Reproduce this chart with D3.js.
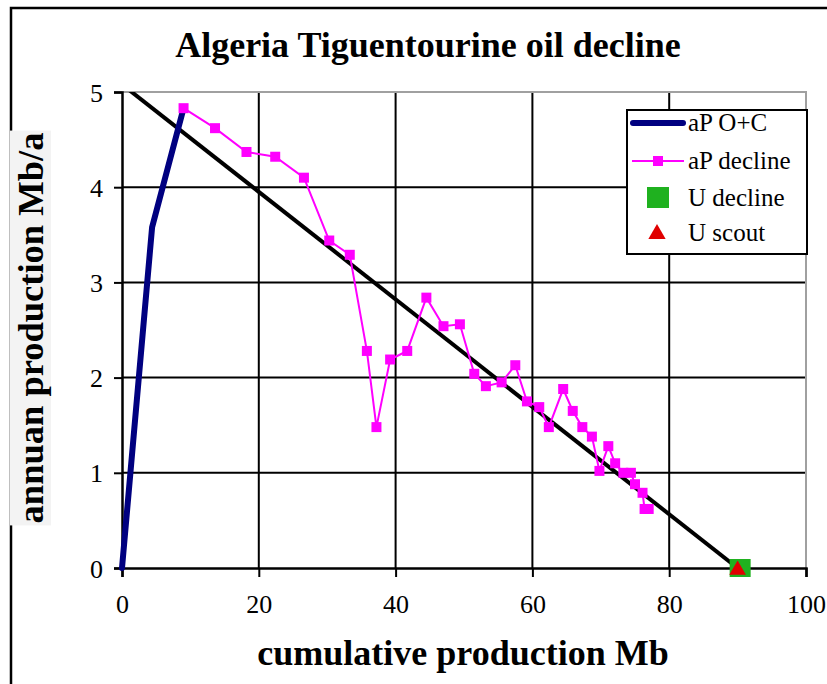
<!DOCTYPE html>
<html><head><meta charset="utf-8">
<script src="https://cdn.jsdelivr.net/npm/d3@7"></script>
<style>
html,body{margin:0;padding:0;background:#fff;overflow:hidden}
svg text{font-family:"Liberation Serif","Times New Roman",serif !important}
</style></head>
<body>
<svg id="c" width="827" height="684"></svg>
<script>
const title = "Algeria Tiguentourine oil decline";
const xTitle = "cumulative production Mb";
const yTitle = "annuan production Mb/a";
const xTicks = [0,20,40,60,80,100];
const yTicks = [0,1,2,3,4,5];

const opX = [0, 4.4, 9.0];
const opY = [0, 3.58, 4.83];

const declX = [9.0,13.6,18.2,22.4,26.6,30.3,33.3,35.8,37.2,39.2,41.7,44.5,47.0,49.4,51.5,53.2,55.5,57.5,59.2,61.0,62.4,64.5,65.9,67.3,68.7,69.8,71.1,72.1,73.3,74.4,75.0,76.1,76.4,77.0];
const declY = [4.83,4.62,4.37,4.32,4.10,3.44,3.29,2.28,1.48,2.19,2.28,2.84,2.54,2.56,2.04,1.91,1.95,2.13,1.75,1.69,1.48,1.88,1.65,1.48,1.38,1.02,1.28,1.10,1.00,1.00,0.88,0.79,0.62,0.62];

const uDecline = [90.3, 0];
const uScout = [90.0, 0];
const trendX = [0, 90];
const trendY = [5.08, 0];

const legendItems = ["aP O+C","aP decline","U decline","U scout"];

const svg = d3.select("#c");
const L=122, R=806, T=92, B=568;
const x = d3.scaleLinear().domain([0,100]).range([L,R]);
const y = d3.scaleLinear().domain([0,5]).range([B,T]);

// outer frame
svg.append("rect").attr("x",11).attr("y",8).attr("width",900).attr("height",800)
  .attr("fill","none").attr("stroke","#000").attr("stroke-width",2.5);

// title
svg.append("text").attr("x",428).attr("y",57).attr("text-anchor","middle")
  .attr("font-size",36).attr("font-weight","bold").text(title);

// clip
svg.append("clipPath").attr("id","pc").append("rect")
  .attr("x",L).attr("y",T).attr("width",R-L).attr("height",B-T);

// gridlines
const g = svg.append("g");
g.selectAll(".vg").data(xTicks.filter(d=>d>0&&d<100)).enter().append("line")
  .attr("x1",d=>x(d)).attr("x2",d=>x(d)).attr("y1",T).attr("y2",B)
  .attr("stroke","#000").attr("stroke-width",2);
g.selectAll(".hg").data(yTicks.filter(d=>d>0&&d<5)).enter().append("line")
  .attr("x1",L).attr("x2",R).attr("y1",d=>y(d)).attr("y2",d=>y(d))
  .attr("stroke","#000").attr("stroke-width",2);
g.append("line").attr("x1",L).attr("x2",R+1).attr("y1",y(5)).attr("y2",y(5)).attr("stroke","#a0a0a0").attr("stroke-width",2);
g.append("line").attr("x1",x(100)).attr("x2",x(100)).attr("y1",T).attr("y2",B).attr("stroke","#a0a0a0").attr("stroke-width",2);

// axes
const xa = svg.append("g").attr("transform",`translate(0,${B})`)
  .call(d3.axisBottom(x).tickValues(xTicks).tickSize(9).tickPadding(18).tickFormat(d3.format("d")));
const ya = svg.append("g").attr("transform",`translate(${L},0)`)
  .call(d3.axisLeft(y).tickValues(yTicks).tickSize(8).tickPadding(11).tickFormat(d3.format("d")));
[xa,ya].forEach(a=>{
  a.attr("font-family",null);
  a.select(".domain").attr("stroke","#000").attr("stroke-width",2.5);
  a.selectAll(".tick line").attr("stroke","#000").attr("stroke-width",2);
  a.selectAll("text").attr("font-size",26).attr("fill","#000");
});
ya.selectAll("text").attr("dy","0.35em");

// axis titles
svg.append("text").attr("x",463).attr("y",665).attr("text-anchor","middle")
  .attr("font-size",36).attr("font-weight","bold").text(xTitle);
const yl = svg.append("g").attr("transform",`translate(43,${328}) rotate(-90)`);
const ylt = yl.append("text").attr("x",0).attr("y",0).attr("text-anchor","middle")
  .attr("font-size",36.5).attr("font-weight","bold").text(yTitle);
const bb = ylt.node().getBBox();
yl.insert("rect","text").attr("x",bb.x-2).attr("y",bb.y).attr("width",bb.width+4).attr("height",bb.height)
  .attr("fill","#f3f3f3");

// series
const plot = svg.append("g").attr("clip-path","url(#pc)");
const line = d3.line().x(d=>x(d[0])).y(d=>y(d[1]));
const op = opX.map((v,i)=>[v,opY[i]]);
const de = declX.map((v,i)=>[v,declY[i]]);

svg.append("path").datum(op).attr("d",line).attr("fill","none")
  .attr("stroke","#000080").attr("stroke-width",6).attr("stroke-linejoin","round").attr("stroke-linecap","round");

svg.append("path").datum(de).attr("d",line).attr("fill","none")
  .attr("stroke","#ff00ff").attr("stroke-width",2);
svg.selectAll(".pm").data(de).enter().append("rect")
  .attr("x",d=>x(d[0])-5).attr("y",d=>y(d[1])-5).attr("width",10).attr("height",10).attr("fill","#ff00ff");

svg.append("rect").attr("x",x(uDecline[0])-10).attr("y",y(uDecline[1])-9).attr("width",21).attr("height",18).attr("fill","#1fb11f");
svg.append("path").attr("d",d3.symbol().type(d3.symbolTriangle).size(120)())
  .attr("transform",`translate(${x(uScout[0])},${y(uScout[1])+2})`).attr("fill","#e00000");

// trend line
const tr = trendX.map((v,i)=>[v,trendY[i]]);
plot.append("path").datum(tr).attr("d",line).attr("fill","none")
  .attr("stroke","#000").attr("stroke-width",4);

// legend
const lg = svg.append("g");
lg.append("rect").attr("x",627).attr("y",110).attr("width",180).attr("height",144)
  .attr("fill","#fff").attr("stroke","#000").attr("stroke-width",2);
const rows = [123,161,198,233];
legendItems.forEach((t,i)=>{
  const cy = rows[i];
  if(i===0){
    lg.append("line").attr("x1",633).attr("x2",683).attr("y1",cy).attr("y2",cy)
      .attr("stroke","#000080").attr("stroke-width",6).attr("stroke-linecap","round");
  } else if(i===1){
    lg.append("line").attr("x1",632).attr("x2",684).attr("y1",cy).attr("y2",cy)
      .attr("stroke","#ff00ff").attr("stroke-width",2);
    lg.append("rect").attr("x",653).attr("y",cy-5).attr("width",10).attr("height",10).attr("fill","#ff00ff");
  } else if(i===2){
    lg.append("rect").attr("x",647).attr("y",cy-11).attr("width",22).attr("height",21).attr("fill","#1fb11f");
  } else {
    lg.append("path").attr("d",d3.symbol().type(d3.symbolTriangle).size(130)())
      .attr("transform",`translate(657,${cy+1})`).attr("fill","#e00000");
  }
  lg.append("text").attr("x",688).attr("y",cy).attr("dy","0.33em")
    .attr("font-size",25).text(t);
});
</script>
</body></html>
